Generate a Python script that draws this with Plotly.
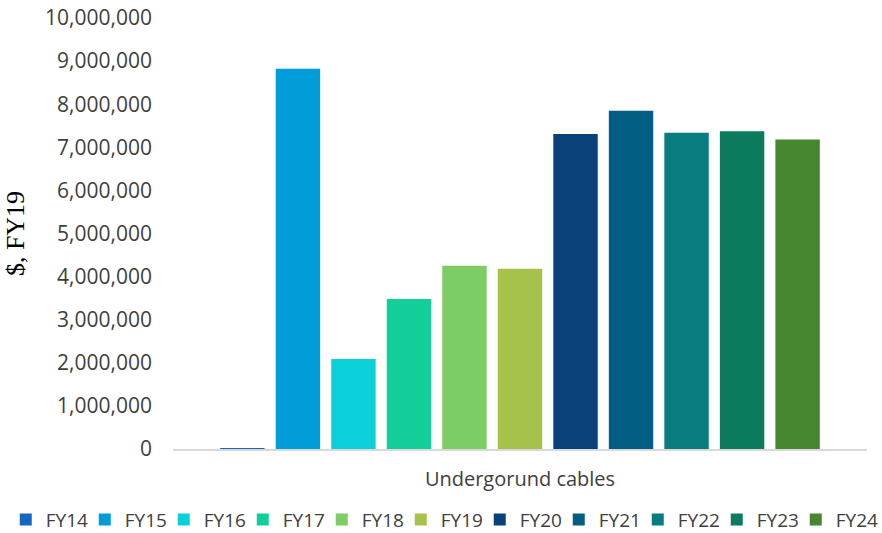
import plotly.graph_objects as go

# Spend on undergorund cables by financial year ($, FY19)
category = ["Undergorund cables"]
years = ["FY14", "FY15", "FY16", "FY17", "FY18", "FY19",
         "FY20", "FY21", "FY22", "FY23", "FY24"]
values = [10000, 8820000, 2090000, 3480000, 4250000, 4180000,
          7310000, 7850000, 7340000, 7370000, 7180000]
colors = ["#1467C0", "#009DDA", "#0BD0D9", "#12CF9A", "#7ECC64", "#A6C24A",
          "#0B4179", "#025D82", "#097C80", "#0B7A5D", "#46862E"]
y_ticks = [0, 1000000, 2000000, 3000000, 4000000, 5000000,
           6000000, 7000000, 8000000, 9000000, 10000000]

WIDTH, HEIGHT = 882, 533
M_L, M_R, M_T, M_B = 173, 15, 18, 84
plot_w = WIDTH - M_L - M_R
LEG_START, LEG_STEP = 5.75, 79  # legend row: left edge and spacing, px

fig = go.Figure()
legends = {}
for i, (yr, val, col) in enumerate(zip(years, values, colors)):
    # one legend box per year so the row of keys lays out evenly without clipping
    key = "legend" if i == 0 else f"legend{i + 1}"
    fig.add_trace(go.Bar(x=category, y=[val], name=yr, legend=key,
                         marker=dict(color=col, line=dict(width=0))))
    legends[key] = dict(orientation="h", xanchor="left", yanchor="top", y=-0.12,
                        x=(LEG_START + LEG_STEP * i - M_L) / plot_w,
                        font=dict(family="Open Sans", size=19, color="#404040"),
                        bgcolor="rgba(0,0,0,0)")

fig.update_layout(
    width=WIDTH, height=HEIGHT,
    margin=dict(l=M_L, r=M_R, t=M_T, b=M_B, autoexpand=False),
    paper_bgcolor="white", plot_bgcolor="white",
    barmode="group", bargap=0.12, bargroupgap=0.2,
    font=dict(family="Open Sans", size=20, color="#404040"),
    showlegend=True,
    **legends,
)
fig.update_yaxes(range=[0, 10000000], tickvals=y_ticks, tickformat=",",
                 tickfont=dict(size=21),
                 showgrid=False, zeroline=False, showline=False, ticks="",
                 ticklabelstandoff=20,
                 title=dict(text="$, FY19", standoff=12,
                            font=dict(family="Liberation Serif", size=26, color="#000000")))
fig.update_xaxes(showgrid=False, showline=True, linecolor="#D9D9D9", linewidth=2,
                 ticks="", ticklabelstandoff=11)

fig.write_html("out.html")
